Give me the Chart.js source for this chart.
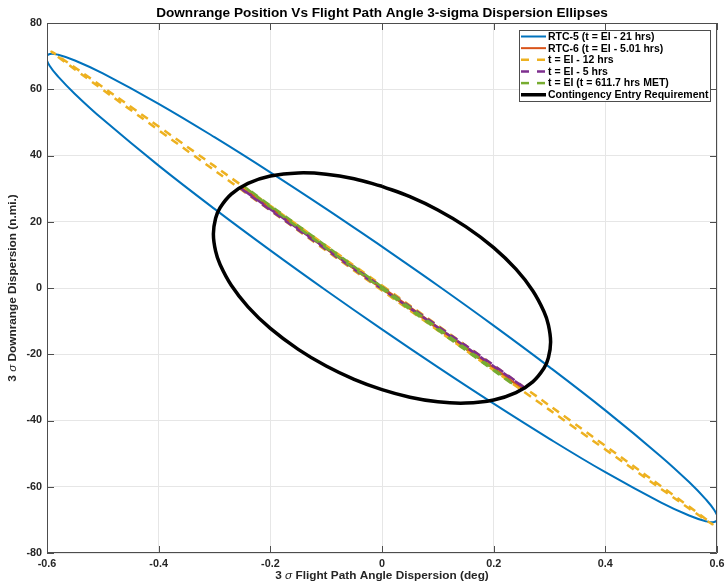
<!DOCTYPE html>
<html>
<head>
<meta charset="utf-8">
<script src="https://cdn.jsdelivr.net/npm/chart.js@4/dist/chart.umd.min.js"></script>
<style>
  html, body { margin: 0; padding: 0; background: #fff; }
  #wrap { width: 725px; height: 583px; position: relative; }
</style>
</head>
<body>
<div id="wrap"><canvas id="ellipse-chart"></canvas></div>
<script>
// Axis ticks
var fpaTicks = [-0.6, -0.4, -0.2, 0, 0.2, 0.4, 0.6];
var downrangeTicks = [-80, -60, -40, -20, 0, 20, 40, 60, 80];

// RTC-5 (t = EI - 21 hrs) ellipse outline
var rtc5X = [0, 0.1, 0.2, 0.3, 0.4, 0.5, 0.55, 0.58, 0.595, 0.6013,
  0.595, 0.58, 0.55, 0.5, 0.4, 0.3, 0.2, 0.1, 0, -0.1, -0.2, -0.3, -0.4, -0.5, -0.55, -0.58, -0.595, -0.6013,
  -0.595, -0.58, -0.55, -0.5, -0.4, -0.3, -0.2, -0.1, 0];
var rtc5Y = [12.5, 0.76, -11.35, -23.88, -36.95, -50.91, -58.59, -63.81, -67.04, -69.6,
  -70.65, -70.41, -68.69, -64.79, -55.61, -45.54, -34.93, -23.9, -12.5, -0.76, 11.35, 23.88, 36.95, 50.91, 58.59, 63.81, 67.04, 69.6,
  70.65, 70.41, 68.69, 64.79, 55.61, 45.54, 34.93, 23.9, 12.5];

// RTC-6 (t = EI - 5.01 hrs)
var rtc6X = [0, 0.1, 0.2, 0.252, 0.2, 0.1, 0, -0.1, -0.2, -0.252, -0.2, -0.1, 0];
var rtc6Y = [0.3, -11.82, -24.02, -30.49, -24.38, -12.38, -0.3, 11.82, 24.02, 30.49, 24.38, 12.38, 0.3];

// t = EI - 12 hrs
var ei12X = [0, 0.2, 0.4, 0.55, 0.592, 0.55, 0.4, 0.2, 0, -0.2, -0.4, -0.55, -0.592, -0.55, -0.4, -0.2, 0];
var ei12Y = [0.75, -23.39, -47.65, -66.0, -71.34, -66.56, -48.75, -24.81, -0.75, 23.39, 47.65, 66.0, 71.34, 66.56, 48.75, 24.81, 0.75];

// t = EI - 5 hrs
var ei5X = [0, 0.1, 0.2, 0.258, 0.2, 0.1, 0, -0.1, -0.2, -0.254, -0.2, -0.1, 0];
var ei5Y = [0.3, -11.5, -23.3, -30.4, -23.6, -11.9, -0.3, 11.6, 23.5, 30.2, 23.8, 12.0, 0.3];

// t = EI (t = 611.7 hrs MET)
var eiX = [0, 0.1, 0.2, 0.236, 0.2, 0.1, 0, -0.1, -0.2, -0.244, -0.2, -0.1, 0];
var eiY = [0.3, -12.1, -24.5, -29.3, -24.9, -12.7, -0.3, 12.1, 24.5, 30.3, 24.9, 12.7, 0.3];

// Contingency Entry Requirement
var reqX = [0, 0.05, 0.1, 0.15, 0.2, 0.24, 0.27, 0.29, 0.298, 0.302,
  0.298, 0.29, 0.27, 0.24, 0.2, 0.15, 0.1, 0.05, 0, -0.05, -0.1, -0.15, -0.2, -0.24, -0.27, -0.29, -0.298, -0.302,
  -0.298, -0.29, -0.27, -0.24, -0.2, -0.15, -0.1, -0.05, 0];
var reqY = [30.7, 27.58, 23.57, 18.54, 12.21, 5.68, -0.82, -7.08, -11.1, -16.3,
  -21.06, -24.22, -28.32, -31.58, -33.79, -34.74, -34.37, -32.98, -30.7, -27.58, -23.57, -18.54, -12.21, -5.68, 0.82, 7.08, 11.1, 16.3,
  21.06, 24.22, 28.32, 31.58, 33.79, 34.74, 34.37, 32.98, 30.7];

function pts(xs, ys) {
  return xs.map(function (x, i) { return { x: x, y: ys[i] }; });
}

var FONT = "'Liberation Sans', Arial, Helvetica, sans-serif";
var AXIS_COLOR = "#262626";
var FRAME_COLOR = "#4d4d4d";

function series(label, xs, ys, color, width, dash, order) {
  return {
    label: label,
    data: pts(xs, ys),
    showLine: true,
    borderColor: color,
    backgroundColor: color,
    borderWidth: width,
    borderDash: dash,
    pointRadius: 0,
    pointHoverRadius: 0,
    tension: 0.4,
    fill: false,
    order: order
  };
}

var datasets = [
  series("RTC-5 (t = EI - 21 hrs)", rtc5X, rtc5Y, "#0072BD", 2, [], 6),
  series("RTC-6 (t = EI - 5.01 hrs)", rtc6X, rtc6Y, "#D95319", 2, [], 5),
  series("t = EI - 12 hrs", ei12X, ei12Y, "#EDB120", 2.5, [8, 6], 4),
  series("t = EI - 5 hrs", ei5X, ei5Y, "#7E2F8E", 2.5, [8, 6], 3),
  series("t = EI (t = 611.7 hrs MET)", eiX, eiY, "#77AC30", 2.5, [8, 6], 2),
  series("Contingency Entry Requirement", reqX, reqY, "#000000", 3.5, [], 1)
];

// Draws a label that contains an italic sigma, centred on (0,0)
function sigmaLabel(ctx, before, after, size) {
  var bold = "bold " + size + "px " + FONT;
  var ital = "italic " + size + "px " + FONT;
  ctx.font = bold; var w1 = ctx.measureText(before).width;
  ctx.font = ital; var w2 = ctx.measureText("\u03c3").width;
  ctx.font = bold; var w3 = ctx.measureText(after).width;
  var x = -(w1 + w2 + w3) / 2;
  ctx.textAlign = "left";
  ctx.textBaseline = "middle";
  ctx.font = bold; ctx.fillText(before, x, 0);
  ctx.font = ital; ctx.fillText("\u03c3", x + w1, 0);
  ctx.font = bold; ctx.fillText(after, x + w1 + w2, 0);
}

var matlabAxes = {
  id: "matlabAxes",
  afterDatasetsDraw: function (chart) {
    var ctx = chart.ctx;
    var a = chart.chartArea;
    var xs = chart.scales.x, ys = chart.scales.y;
    ctx.save();
    ctx.strokeStyle = FRAME_COLOR;
    ctx.lineWidth = 1;
    ctx.beginPath();
    ctx.rect(a.left + 0.5, a.top + 0.5, a.right - a.left - 1, a.bottom - a.top - 1);
    // inward tick marks on all four sides
    fpaTicks.forEach(function (v) {
      var px = Math.round(xs.getPixelForValue(v)) + 0.5;
      ctx.moveTo(px, a.bottom); ctx.lineTo(px, a.bottom - 7);
      ctx.moveTo(px, a.top); ctx.lineTo(px, a.top + 7);
    });
    downrangeTicks.forEach(function (v) {
      var py = Math.round(ys.getPixelForValue(v)) + 0.5;
      ctx.moveTo(a.left, py); ctx.lineTo(a.left + 7, py);
      ctx.moveTo(a.right, py); ctx.lineTo(a.right - 7, py);
    });
    ctx.stroke();

    // title
    ctx.fillStyle = "#000";
    ctx.font = "bold 13.6px " + FONT;
    ctx.textAlign = "center";
    ctx.textBaseline = "middle";
    ctx.fillText("Downrange Position Vs Flight Path Angle 3-sigma Dispersion Ellipses", (a.left + a.right) / 2, 13);

    // axis titles
    ctx.fillStyle = AXIS_COLOR;
    ctx.save();
    ctx.translate((a.left + a.right) / 2, 576);
    sigmaLabel(ctx, "3 ", " Flight Path Angle Dispersion (deg)", 11.8);
    ctx.restore();
    ctx.save();
    ctx.translate(13, (a.top + a.bottom) / 2);
    ctx.rotate(-Math.PI / 2);
    sigmaLabel(ctx, "3 ", " Downrange Dispersion (n.mi.)", 11.8);
    ctx.restore();

    // legend box
    var lx = 519.5, ly = 30.5, lw = 191, lh = 71;
    ctx.fillStyle = "#fff";
    ctx.fillRect(lx, ly, lw, lh);
    ctx.strokeStyle = FRAME_COLOR;
    ctx.lineWidth = 1;
    ctx.strokeRect(lx, ly, lw, lh);
    ctx.font = "bold 10.5px " + FONT;
    ctx.textAlign = "left";
    ctx.textBaseline = "middle";
    datasets.forEach(function (d, i) {
      var y = 36.5 + i * 11.65;
      ctx.save();
      ctx.strokeStyle = d.borderColor;
      ctx.lineWidth = d.borderWidth;
      ctx.setLineDash(d.borderDash.length ? [8, 8] : []);
      ctx.beginPath();
      ctx.moveTo(521, y); ctx.lineTo(546, y);
      ctx.stroke();
      ctx.restore();
      ctx.fillStyle = "#000";
      ctx.fillText(d.label, 548, y + 0.5);
    });
    ctx.restore();
  }
};

var ctx = document.getElementById("ellipse-chart").getContext("2d");
var myChart = new Chart(ctx, {
  type: "scatter",
  data: { datasets: datasets },
  options: {
    responsive: true,
    maintainAspectRatio: false,
    animation: false,
    layout: { padding: { top: 23, right: 8, left: 0, bottom: 0 } },
    plugins: {
      legend: { display: false },
      tooltip: { enabled: false }
    },
    scales: {
      x: {
        type: "linear",
        min: -0.6,
        max: 0.6,
        afterBuildTicks: function (s) { s.ticks = fpaTicks.map(function (v) { return { value: v }; }); },
        afterFit: function (s) { s.height = 30; s.paddingLeft = 0; s.paddingRight = 0; },
        grid: { color: "#e6e6e6", drawTicks: false },
        border: { display: false },
        ticks: {
          padding: 5,
          maxRotation: 0,
          color: AXIS_COLOR,
          font: { family: FONT, size: 10.8, weight: "bold" },
          callback: function (v) { return v === 0 ? "0" : String(Math.round(v * 10) / 10); }
        }
      },
      y: {
        type: "linear",
        min: -80,
        max: 80,
        afterBuildTicks: function (s) { s.ticks = downrangeTicks.map(function (v) { return { value: v }; }); },
        afterFit: function (s) { s.width = 47; s.paddingTop = 0; s.paddingBottom = 0; },
        grid: { color: "#e6e6e6", drawTicks: false },
        border: { display: false },
        ticks: {
          padding: 5,
          color: AXIS_COLOR,
          font: { family: FONT, size: 10.8, weight: "bold" },
          callback: function (v) { return String(v); }
        }
      }
    }
  },
  plugins: [matlabAxes]
});
</script>
</body>
</html>
